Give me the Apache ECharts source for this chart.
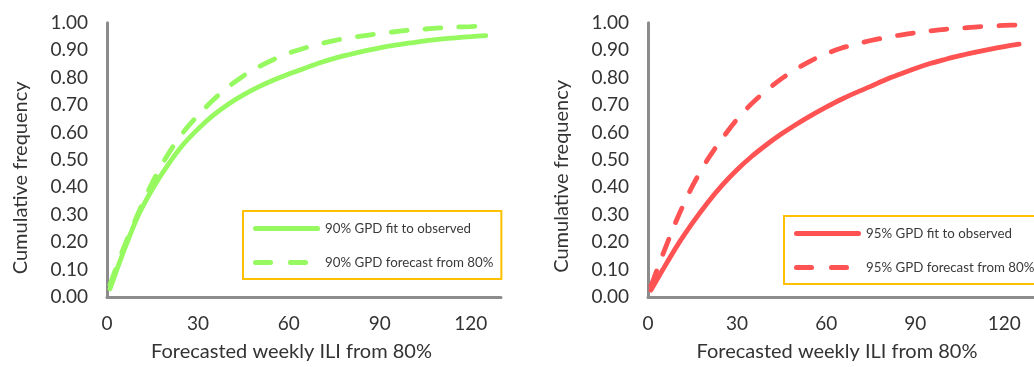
<!DOCTYPE html>
<html>
<head>
<meta charset="utf-8">
<script src="https://cdn.jsdelivr.net/npm/echarts@6/dist/echarts.min.js"></script>
<style>
html,body{margin:0;padding:0;background:#fff;}
#chart{width:1034px;height:367px;}
</style>
</head>
<body>
<div id="chart"></div>
<script>
// ---- data ----
var xValues = [1, 5, 10, 15, 20, 25, 30, 35, 40, 45, 50, 55, 60, 65, 70, 75, 80, 85, 90, 95, 100, 105, 110, 115, 120, 125];
var fit90 = [0.03, 0.152, 0.29, 0.394, 0.48, 0.554, 0.612, 0.662, 0.703, 0.737, 0.766, 0.791, 0.813, 0.833, 0.853, 0.870, 0.884, 0.897, 0.908, 0.918, 0.926, 0.934, 0.940, 0.945, 0.949, 0.953];
var forecast90 = [0.045, 0.165, 0.298, 0.418, 0.518, 0.598, 0.662, 0.718, 0.766, 0.806, 0.839, 0.866, 0.889, 0.907, 0.922, 0.935, 0.945, 0.953, 0.960, 0.967, 0.973, 0.977, 0.981, 0.984, 0.986, 0.988];
var fit95 = [0.025, 0.10, 0.19, 0.27, 0.343, 0.408, 0.464, 0.513, 0.556, 0.595, 0.630, 0.662, 0.692, 0.72, 0.745, 0.768, 0.792, 0.813, 0.833, 0.851, 0.866, 0.88, 0.892, 0.903, 0.913, 0.922];
var forecast95 = [0.04, 0.155, 0.29, 0.405, 0.50, 0.578, 0.648, 0.706, 0.754, 0.796, 0.832, 0.862, 0.887, 0.907, 0.922, 0.935, 0.946, 0.955, 0.963, 0.970, 0.976, 0.980, 0.984, 0.987, 0.990, 0.992];
var seriesNames = ['90% GPD fit to observed', '90% GPD forecast from 80%', '95% GPD fit to observed', '95% GPD forecast from 80%'];
var xAxisTitle = 'Forecasted weekly ILI from 80%';
var yAxisTitle = 'Cumulative frequency';

function pairs(ys) { return xValues.map(function (x, i) { return [x, ys[i]]; }); }

var FONT = 'Lato';
var GREEN = '#96F95F';
var RED = '#FF5252';
var AXIS = '#8C8C8C';
var TEXT = '#333';

// legend sample shapes (solid bar / two dashes), 67 x 5
var ICON_SOLID = 'path://M2.5,0H64.5A2.5,2.5,0,0,1,64.5,5H2.5A2.5,2.5,0,0,1,2.5,0Z';
var ICON_DASH = 'path://M2.5,0H17.5A2.5,2.5,0,0,1,17.5,5H2.5A2.5,2.5,0,0,1,2.5,0Z' +
  'M37.5,0H52.5A2.5,2.5,0,0,1,52.5,5H37.5A2.5,2.5,0,0,1,37.5,0Z' +
  'M67,0L67,5L67,0Z';

function xAxisDef(gridIndex, padRight) {
  return {
    type: 'value', gridIndex: gridIndex, min: 0, max: 130, interval: 30,
    axisLine: { show: true, lineStyle: { color: AXIS, width: 3 } },
    axisTick: { show: false }, splitLine: { show: false },
    axisLabel: { color: TEXT, fontFamily: FONT, fontSize: 19, margin: 17, showMaxLabel: false },
    name: xAxisTitle, nameLocation: 'middle', nameGap: 45,
    nameTextStyle: { color: TEXT, fontFamily: FONT, fontSize: 20, padding: [0, padRight, 0, 0] }
  };
}
function yAxisDef(gridIndex, padRight) {
  return {
    type: 'value', gridIndex: gridIndex, min: 0, max: 1, interval: 0.1,
    axisLine: { show: true, lineStyle: { color: AXIS, width: 3 } },
    axisTick: { show: false }, splitLine: { show: false },
    axisLabel: { color: TEXT, fontFamily: FONT, fontSize: 19, margin: 19,
      formatter: function (v) { return v.toFixed(2); } },
    name: yAxisTitle, nameLocation: 'middle', nameGap: 76, nameRotate: 90,
    nameTextStyle: { color: TEXT, fontFamily: FONT, fontSize: 20, padding: [0, padRight, 0, 0] }
  };
}
function lineSeries(name, data, color, dashed, idx) {
  return {
    name: name, type: 'line', xAxisIndex: idx, yAxisIndex: idx,
    data: pairs(data), showSymbol: false, symbol: 'none', smooth: 0.3,
    lineStyle: { color: color, width: 4.8, type: dashed ? [16, 18] : 'solid', cap: 'round' },
    itemStyle: { color: color }
  };
}
function legendDef(names, left, top) {
  return {
    data: [{ name: names[0], icon: ICON_SOLID }, { name: names[1], icon: ICON_DASH }],
    orient: 'vertical', left: left, top: top,
    itemWidth: 67, itemHeight: 16, itemGap: 21,
    padding: [11, 8, 10, 10],
    borderColor: '#FFC000', borderWidth: 2, backgroundColor: '#fff',
    textStyle: { color: '#3a3a3a', fontFamily: FONT, fontSize: 13.3 },
    selectedMode: false
  };
}

var chart = echarts.init(document.getElementById('chart'), null, { renderer: 'canvas' });
chart.setOption({
  animation: false,
  backgroundColor: '#fff',
  grid: [
    { left: 107, top: 22.7, width: 394, height: 281 },
    { left: 648, top: 22.7, width: 394, height: 285.5 }
  ],
  xAxis: [xAxisDef(0, 25), xAxisDef(1, 8)],
  yAxis: [yAxisDef(0, 36), yAxisDef(1, 33)],
  legend: [
    legendDef([seriesNames[0], seriesNames[1]], 243, 211),
    legendDef([seriesNames[2], seriesNames[3]], 784, 216)
  ],
  series: [
    lineSeries(seriesNames[0], fit90, GREEN, false, 0),
    lineSeries(seriesNames[1], forecast90, GREEN, true, 0),
    lineSeries(seriesNames[2], fit95, RED, false, 1),
    lineSeries(seriesNames[3], forecast95, RED, true, 1)
  ]
});
</script>
</body>
</html>
